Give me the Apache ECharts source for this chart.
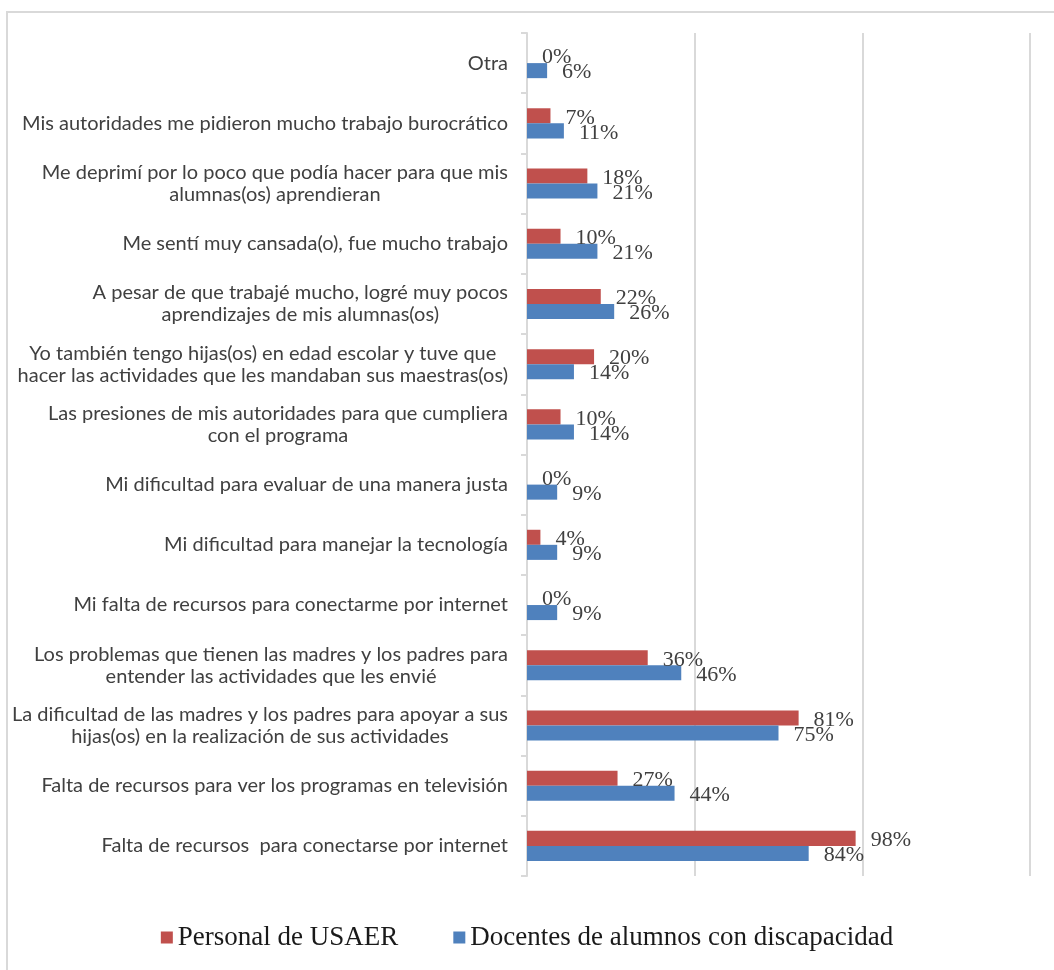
<!DOCTYPE html>
<html>
<head>
<meta charset="utf-8">
<script src="https://cdn.jsdelivr.net/npm/echarts@6/dist/echarts.min.js"></script>
<style>
html,body{margin:0;padding:0;background:#fff;overflow:hidden;}
#frame{position:absolute;left:6px;top:11px;width:1200px;height:1100px;border:2px solid #d9d9d9;box-sizing:border-box;}
#chart{position:absolute;left:0;top:0;width:1054px;height:970px;}
</style>
</head>
<body>
<div id="frame"></div>
<div id="chart"></div>
<script>
const categories = [
  "Otra",
  "Mis autoridades me pidieron mucho trabajo burocrático",
  "Me deprimí por lo poco que podía hacer para que mis\nalumnas(os) aprendieran",
  "Me sentí muy cansada(o), fue mucho trabajo",
  "A pesar de que trabajé mucho, logré muy pocos\naprendizajes de mis alumnas(os)",
  "Yo también tengo hijas(os) en edad escolar y tuve que\nhacer las actividades que les mandaban sus maestras(os)",
  "Las presiones de mis autoridades para que cumpliera\ncon el programa",
  "Mi dificultad para evaluar de una manera justa",
  "Mi dificultad para manejar la tecnología",
  "Mi falta de recursos para conectarme por internet",
  "Los problemas que tienen las madres y los padres para\nentender las actividades que les envié",
  "La dificultad de las madres y los padres para apoyar a sus\nhijas(os) en la realización de sus actividades",
  "Falta de recursos para ver los programas en televisión",
  "Falta de recursos  para conectarse por internet"
];
const seriesNames = ["Personal de USAER", "Docentes de alumnos con discapacidad"];
const usaer = [0, 7, 18, 10, 22, 20, 10, 0, 4, 0, 36, 81, 27, 98];
const docentes = [6, 11, 21, 21, 26, 14, 14, 9, 9, 9, 46, 75, 44, 84];

const chart = echarts.init(document.getElementById('chart'), null, {renderer: 'canvas'});
const labelStyle = {
  show: true,
  position: 'right',
  distance: 15,
  offset: [0, 2],
  formatter: '{c}%',
  fontFamily: 'Liberation Serif',
  fontSize: 22,
  color: '#404040'
};
const option = {
  animation: false,
  backgroundColor: 'transparent',
  grid: {left: 527, right: 24, top: 33, bottom: 94, containLabel: false},
  legend: {
    bottom: 14,
    left: 'center',
    itemWidth: 12,
    itemHeight: 12,
    itemGap: 55,
    icon: 'rect',
    textStyle: {fontFamily: 'Liberation Serif', fontSize: 27, color: '#1a1a1a'},
    data: seriesNames
  },
  xAxis: {
    type: 'value',
    min: 0,
    max: 150,
    interval: 50,
    axisLabel: {show: false},
    axisLine: {show: false},
    axisTick: {show: false},
    splitLine: {show: true, lineStyle: {color: '#d9d9d9', width: 2}}
  },
  yAxis: {
    type: 'category',
    inverse: true,
    data: categories,
    axisLine: {show: true, lineStyle: {color: '#d9d9d9', width: 2}},
    axisTick: {show: true, length: 6, lineStyle: {color: '#d9d9d9', width: 2}},
    axisLabel: {
      margin: 19,
      align: 'right',
      formatter: function (v) {
        return v.split('\n').map(function (l) { return '{c|' + l + '}'; }).join('\n');
      },
      rich: {
        c: {align: 'center', fontFamily: 'Lato', fontSize: 20, color: '#404040', lineHeight: 22}
      }
    }
  },
  series: [
    {
      name: seriesNames[0],
      type: 'bar',
      data: usaer,
      barGap: '0%',
      barCategoryGap: '50%',
      itemStyle: {color: '#C0504D'},
      label: labelStyle
    },
    {
      name: seriesNames[1],
      type: 'bar',
      data: docentes,
      barGap: '0%',
      barCategoryGap: '50%',
      itemStyle: {color: '#4F81BD'},
      label: labelStyle
    }
  ]
};
chart.setOption(option);
</script>
</body>
</html>
